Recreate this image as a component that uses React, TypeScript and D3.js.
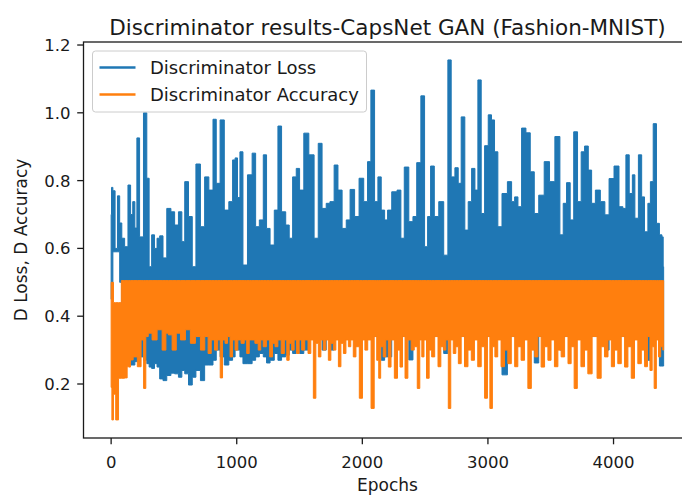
import React, { useEffect, useRef } from "react"
import * as d3 from "d3"

const WIDTH = 682
const HEIGHT = 495
const FONT = "'DejaVu Sans', sans-serif"
const LOSS_COLOR = "#1f77b4"
const ACC_COLOR = "#ff7f0e"
const INK = "#1a1a1a"

const title = "Discriminator results-CapsNet GAN (Fashion-MNIST)"
const xLabel = "Epochs"
const yLabel = "D Loss, D Accuracy"
const seriesNames = ["Discriminator Loss", "Discriminator Accuracy"]

const xTicks = [0, 1000, 2000, 3000, 4000]
const yTicks = [0.2, 0.4, 0.6, 0.8, 1.0, 1.2]

// loss: the line is so dense it reads as a band, so it is kept as top / bottom per feature
const lossEpochs = [
	0, 6, 22, 41, 60, 76, 94, 121, 147, 163, 181, 197, 213, 240, 275, 293, 312, 333, 358, 373,
	400, 426, 460, 492, 519, 553, 573, 599, 633, 659, 691, 731, 758, 798, 824, 850, 885, 917, 957, 977,
	997, 1015, 1036, 1063, 1108, 1137, 1164, 1196, 1227, 1248, 1283, 1315, 1341, 1373, 1407, 1429, 1461, 1487, 1514, 1554,
	1594, 1638, 1660, 1699, 1726, 1758, 1793, 1819, 1859, 1885, 1920, 1957, 1991, 2031, 2052, 2084, 2111, 2137, 2164, 2191,
	2211, 2257, 2296, 2318, 2350, 2390, 2416, 2450, 2482, 2509, 2530, 2557, 2589, 2628, 2668, 2694, 2721, 2753, 2774, 2800,
	2832, 2854, 2886, 2907, 2933, 2960, 2987, 3018, 3039, 3066, 3092, 3132, 3178, 3199, 3226, 3252, 3284, 3321, 3353, 3385,
	3424, 3472, 3509, 3557, 3589, 3610, 3642, 3668, 3698, 3729, 3756, 3783, 3815, 3836, 3875, 3915, 3947, 3982, 4026, 4061,
	4088, 4109, 4141, 4159, 4181, 4215, 4233, 4260, 4287, 4300, 4332, 4352, 4379, 4392, 4399,
]
const lossHigh = [
	0.70, 0.78, 0.77, 0.60, 0.755, 0.675, 0.63, 0.605, 0.787, 0.70, 0.738, 0.66, 0.926, 0.634, 1.0, 0.807, 0.546, 0.64, 0.60, 0.63,
	0.637, 0.572, 0.718, 0.708, 0.669, 0.708, 0.62, 0.797, 0.694, 0.546, 0.849, 0.664, 0.811, 0.772, 0.981, 0.792, 0.979, 0.713, 0.738, 0.861,
	0.867, 0.75, 0.885, 0.551, 0.817, 0.881, 0.664, 0.684, 0.876, 0.659, 0.61, 0.713, 0.961, 0.708, 0.669, 0.63, 0.811, 0.836, 0.772, 0.94,
	0.876, 0.63, 0.91, 0.718, 0.733, 0.738, 0.846, 0.772, 0.659, 0.684, 0.774, 0.694, 0.807, 0.738, 0.856, 1.067, 0.738, 0.811, 0.713, 0.684,
	0.713, 0.767, 0.772, 0.63, 0.84, 0.679, 0.694, 0.853, 1.05, 0.605, 0.694, 0.843, 0.694, 0.738, 0.58, 1.156, 0.811, 0.838, 0.792, 0.988,
	0.654, 0.738, 0.836, 0.772, 1.097, 0.703, 0.903, 0.994, 0.979, 0.885, 0.664, 0.762, 0.797, 0.738, 0.752, 0.723, 0.955, 0.941, 0.826, 0.703,
	0.757, 0.856, 0.797, 0.93, 0.64, 0.733, 0.794, 0.684, 0.944, 0.738, 0.885, 0.902, 0.831, 0.733, 0.772, 0.738, 0.699, 0.806, 0.843, 0.723,
	0.718, 0.876, 0.762, 0.817, 0.689, 0.876, 0.752, 0.649, 0.733, 0.797, 0.968, 0.674, 0.64, 0.634, 0.546,
]
const lossLow = [
	0.45, 0.45, 0.59, 0.59, 0.59, 0.50, 0.35, 0.30, 0.28, 0.256, 0.256, 0.266, 0.266, 0.28, 0.27, 0.26, 0.25, 0.246, 0.26, 0.25,
	0.215, 0.21, 0.225, 0.232, 0.23, 0.22, 0.24, 0.23, 0.197, 0.22, 0.24, 0.21, 0.256, 0.256, 0.27, 0.30, 0.28, 0.256, 0.27, 0.28,
	0.30, 0.30, 0.28, 0.26, 0.26, 0.27, 0.28, 0.29, 0.28, 0.262, 0.27, 0.29, 0.27, 0.28, 0.285, 0.30, 0.29, 0.30, 0.29, 0.30,
	0.34, 0.34, 0.34, 0.30, 0.34, 0.30, 0.34, 0.34, 0.34, 0.34, 0.34, 0.34, 0.34, 0.34, 0.34, 0.34, 0.34, 0.34, 0.27, 0.28,
	0.28, 0.34, 0.34, 0.34, 0.34, 0.271, 0.34, 0.34, 0.34, 0.34, 0.34, 0.34, 0.34, 0.34, 0.29, 0.34, 0.34, 0.34, 0.34, 0.34,
	0.34, 0.34, 0.34, 0.34, 0.34, 0.34, 0.34, 0.34, 0.34, 0.34, 0.34, 0.227, 0.34, 0.34, 0.34, 0.34, 0.34, 0.34, 0.34, 0.262,
	0.34, 0.34, 0.34, 0.34, 0.30, 0.34, 0.34, 0.34, 0.34, 0.34, 0.34, 0.34, 0.34, 0.34, 0.34, 0.34, 0.30, 0.34, 0.34, 0.34,
	0.34, 0.34, 0.34, 0.34, 0.34, 0.34, 0.34, 0.27, 0.27, 0.34, 0.34, 0.34, 0.253, 0.253, 0.253,
]

// accuracy: bottom of the band per feature; the top sits on a flat ceiling after the first epochs
const accEpochs = [
	0, 12, 25, 48, 70, 92, 121, 134, 147, 161, 190, 227, 250, 267, 285, 306, 346, 386, 426, 446,
	466, 505, 532, 572, 611, 651, 691, 731, 760, 784, 810, 837, 860, 877, 897, 917, 937, 957, 977, 997,
	1020, 1049, 1070, 1089, 1110, 1129, 1160, 1182, 1200, 1222, 1250, 1275, 1295, 1315, 1340, 1368, 1390, 1407, 1428, 1447,
	1467, 1487, 1507, 1527, 1555, 1580, 1600, 1620, 1640, 1660, 1680, 1699, 1720, 1739, 1760, 1779, 1800, 1819, 1840, 1859,
	1880, 1898, 1918, 1938, 1960, 1992, 2010, 2031, 2055, 2084, 2105, 2124, 2137, 2155, 2177, 2197, 2217, 2240, 2270, 2290,
	2310, 2330, 2350, 2375, 2402, 2425, 2450, 2465, 2482, 2500, 2522, 2542, 2562, 2590, 2615, 2635, 2655, 2675, 2694, 2714,
	2734, 2755, 2774, 2800, 2827, 2855, 2880, 2905, 2933, 2960, 2987, 3005, 3026, 3045, 3066, 3090, 3119, 3145, 3172, 3200,
	3226, 3250, 3278, 3305, 3331, 3360, 3385, 3410, 3437, 3465, 3490, 3515, 3544, 3570, 3596, 3625, 3650, 3675, 3698, 3725,
	3756, 3782, 3809, 3850, 3888, 3915, 3942, 3970, 3995, 4020, 4048, 4075, 4101, 4128, 4154, 4180, 4207, 4235, 4260, 4280,
	4300, 4315, 4332, 4350, 4366, 4385, 4399,
]
const accLow = [
	0.19, 0.094, 0.17, 0.094, 0.217, 0.217, 0.218, 0.251, 0.25, 0.271, 0.28, 0.251, 0.33, 0.187, 0.34, 0.35, 0.33, 0.36, 0.30, 0.35,
	0.345, 0.30, 0.35, 0.33, 0.36, 0.32, 0.34, 0.30, 0.34, 0.29, 0.33, 0.30, 0.33, 0.218, 0.33, 0.32, 0.34, 0.28, 0.33, 0.30,
	0.33, 0.32, 0.33, 0.29, 0.33, 0.33, 0.32, 0.30, 0.33, 0.31, 0.33, 0.28, 0.32, 0.31, 0.33, 0.29, 0.33, 0.27, 0.32, 0.30,
	0.33, 0.29, 0.33, 0.30, 0.33, 0.29, 0.33, 0.158, 0.32, 0.28, 0.33, 0.30, 0.33, 0.27, 0.32, 0.30, 0.33, 0.251, 0.32, 0.29,
	0.33, 0.31, 0.33, 0.28, 0.31, 0.158, 0.33, 0.30, 0.33, 0.128, 0.34, 0.27, 0.217, 0.31, 0.28, 0.33, 0.25, 0.33, 0.217, 0.30,
	0.25, 0.34, 0.217, 0.33, 0.30, 0.31, 0.187, 0.33, 0.28, 0.33, 0.217, 0.30, 0.28, 0.34, 0.251, 0.31, 0.30, 0.33, 0.128, 0.33,
	0.29, 0.31, 0.26, 0.34, 0.251, 0.30, 0.27, 0.33, 0.251, 0.31, 0.158, 0.34, 0.128, 0.31, 0.28, 0.33, 0.251, 0.30, 0.26, 0.34,
	0.251, 0.31, 0.27, 0.33, 0.187, 0.30, 0.28, 0.34, 0.25, 0.31, 0.27, 0.33, 0.251, 0.30, 0.28, 0.34, 0.26, 0.31, 0.187, 0.33,
	0.251, 0.30, 0.23, 0.34, 0.217, 0.31, 0.28, 0.33, 0.251, 0.30, 0.26, 0.34, 0.25, 0.31, 0.217, 0.33, 0.26, 0.30, 0.251, 0.34,
	0.24, 0.31, 0.187, 0.33, 0.28, 0.31, 0.30,
]
const accHighEarly = [0.5, 0.5, 0.44, 0.44, 0.44]
const ACC_CEILING = 0.505

const App = () => {
	const svgRef = useRef(null)

	useEffect(() => {
		const svg = d3.select(svgRef.current)
		svg.selectAll("*").remove()

		const left = 83.5
		const right = 691.4 // right spine falls just outside the picture
		const top = 42
		const bottom = 438

		const x = d3.scaleLinear().domain([-220, 4620]).range([left, right])
		const y = d3.scaleLinear().domain([0.0407, 1.2089]).range([bottom, top])

		svg.append("rect").attr("width", WIDTH).attr("height", HEIGHT).attr("fill", "white")

		svg.append("defs").append("clipPath")
			.attr("id", "plot-clip")
			.append("rect")
			.attr("x", left)
			.attr("y", top)
			.attr("width", right - left)
			.attr("height", bottom - top)

		const plot = svg.append("g").attr("clip-path", "url(#plot-clip)")

		const lossArea = d3.area()
			.x((d, i) => x(lossEpochs[i]))
			.y0((d, i) => y(lossLow[i]))
			.y1((d, i) => y(lossHigh[i]))
			.curve(d3.curveStep)

		plot.append("path")
			.datum(lossEpochs)
			.attr("fill", LOSS_COLOR)
			.attr("stroke", LOSS_COLOR)
			.attr("stroke-width", 1)
			.attr("d", lossArea)

		const accArea = d3.area()
			.x((d, i) => x(accEpochs[i]))
			.y0((d, i) => y(accLow[i]))
			.y1((d, i) => y(accHighEarly[i] ?? ACC_CEILING))
			.curve(d3.curveStep)

		plot.append("path")
			.datum(accEpochs)
			.attr("fill", ACC_COLOR)
			.attr("stroke", ACC_COLOR)
			.attr("stroke-width", 1)
			.attr("d", accArea)

		// axes
		const axes = svg.append("g").style("font-family", FONT).style("font-size", "16.5px")

		xTicks.forEach((t) => {
			axes.append("line")
				.attr("x1", x(t)).attr("x2", x(t))
				.attr("y1", bottom).attr("y2", bottom + 6.3)
				.attr("stroke", INK).attr("stroke-width", 1.3)
			axes.append("text")
				.attr("x", x(t)).attr("y", 468)
				.attr("text-anchor", "middle")
				.attr("fill", INK)
				.text(String(t))
		})

		yTicks.forEach((t) => {
			axes.append("line")
				.attr("x1", left - 6.3).attr("x2", left)
				.attr("y1", y(t)).attr("y2", y(t))
				.attr("stroke", INK).attr("stroke-width", 1.3)
			axes.append("text")
				.attr("x", left - 13).attr("y", y(t))
				.attr("dy", "0.36em")
				.attr("text-anchor", "end")
				.attr("fill", INK)
				.text(d3.format(".1f")(t))
		})

		axes.append("rect")
			.attr("x", left).attr("y", top)
			.attr("width", right - left).attr("height", bottom - top)
			.attr("fill", "none")
			.attr("stroke", INK)
			.attr("stroke-width", 1.3)

		axes.append("text")
			.attr("x", (left + right) / 2).attr("y", 491)
			.attr("text-anchor", "middle")
			.style("font-size", "17px")
			.attr("fill", INK)
			.text(xLabel)

		axes.append("text")
			.attr("transform", `translate(27,${(top + bottom) / 2}) rotate(-90)`)
			.attr("text-anchor", "middle")
			.style("font-size", "17px")
			.attr("fill", INK)
			.text(yLabel)

		svg.append("text")
			.attr("x", (left + right) / 2).attr("y", 35)
			.attr("text-anchor", "middle")
			.style("font-family", FONT)
			.style("font-size", "21.5px")
			.attr("fill", INK)
			.text(title)

		// legend
		const legend = svg.append("g").style("font-family", FONT).style("font-size", "18px")
		legend.append("rect")
			.attr("x", 92.5).attr("y", 51)
			.attr("width", 274).attr("height", 61)
			.attr("rx", 3)
			.attr("fill", "white").attr("fill-opacity", 0.8)
			.attr("stroke", "#cccccc")

		const colors = [LOSS_COLOR, ACC_COLOR]
		seriesNames.forEach((name, i) => {
			const cy = 67.5 + i * 27
			legend.append("line")
				.attr("x1", 99.5).attr("x2", 135.5)
				.attr("y1", cy).attr("y2", cy)
				.attr("stroke", colors[i]).attr("stroke-width", 2.7)
			legend.append("text")
				.attr("x", 150).attr("y", cy)
				.attr("dy", "0.36em")
				.attr("fill", INK)
				.text(name)
		})
	}, [])

	return (
		<svg
			ref={svgRef}
			width={WIDTH}
			height={HEIGHT}
			style={{ position: "absolute", left: 0, top: 0, display: "block" }}
		></svg>
	)
}

export default App
